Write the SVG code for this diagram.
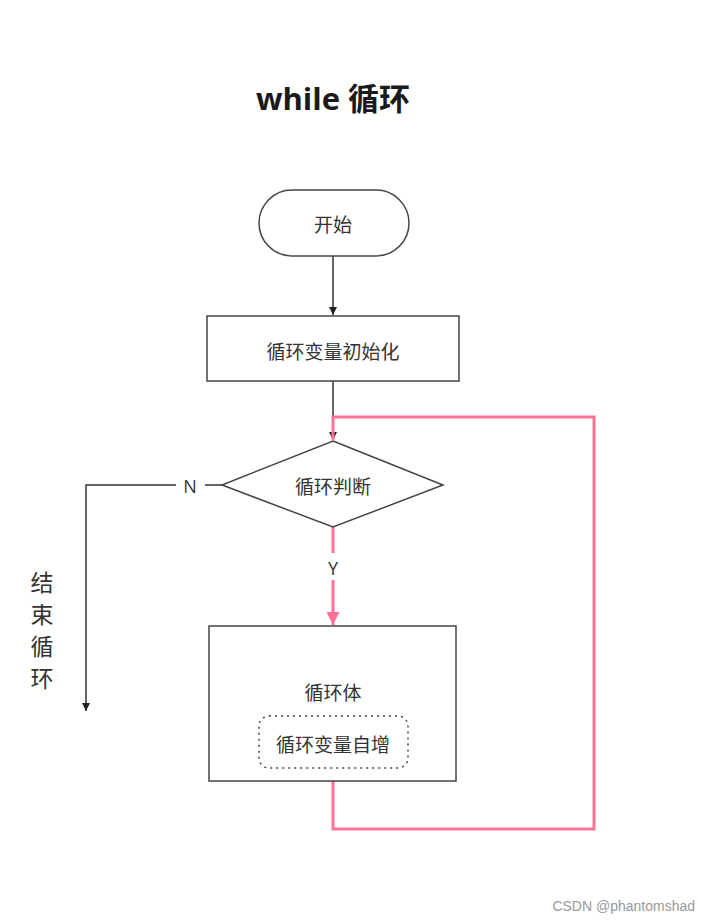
<svg xmlns="http://www.w3.org/2000/svg" width="710" height="924" viewBox="0 0 710 924">
<style>
.node{fill:#fff;stroke:#444;stroke-width:1.5}
.t{font-family:"Noto Sans CJK SC","Liberation Sans",sans-serif;font-size:19px;fill:#333;text-anchor:middle;dominant-baseline:central}
.v{font-size:23px}
.blk{fill:none;stroke:#333;stroke-width:1.5}
.pink{fill:none;stroke:#ff7096;stroke-width:3}
.lbl{font-family:"Open Sans","Liberation Sans",sans-serif;font-size:18px;fill:#333;text-anchor:middle;dominant-baseline:central}
</style>
<defs>
<marker id="ab" viewBox="0 0 10 10" refX="10" refY="5" markerWidth="8" markerHeight="8" markerUnits="userSpaceOnUse" orient="auto"><path d="M0,0 L10,5 L0,10 z" fill="#222"/></marker>
<marker id="ap" viewBox="0 0 10 10" refX="10" refY="5" markerWidth="13" markerHeight="13" markerUnits="userSpaceOnUse" orient="auto"><path d="M0,0 L10,5 L0,10 z" fill="#ff7096"/></marker>
</defs>
<rect width="710" height="924" fill="#fff"/>
<text x="333" y="98" font-family="'Open Sans','Noto Sans CJK SC',sans-serif" font-size="31" font-weight="bold" fill="#1a1a1a" text-anchor="middle" dominant-baseline="central">while 循环</text>
<g id="connectors">
<line class="blk" x1="333" y1="256" x2="333" y2="315" marker-end="url(#ab)"/>
<line class="blk" x1="333" y1="381" x2="333" y2="440" marker-end="url(#ab)"/>
<polyline class="pink" points="333,781 333,829 594,829 594,417 333,417 333,440"/>
<line class="blk" x1="222" y1="485" x2="205" y2="485"/>
<polyline class="blk" points="176,485 86,485 86,711" marker-end="url(#ab)"/>
<text class="lbl" x="190" y="486">N</text>
<line class="pink" x1="333" y1="527" x2="333" y2="553"/>
<line class="pink" x1="333" y1="580" x2="333" y2="625" marker-end="url(#ap)"/>
<text class="lbl" x="333" y="568">Y</text>
</g>
<g id="start">
<rect class="node" x="259" y="190" width="150" height="66" rx="33"/>
<text class="t" x="333" y="223">开始</text>
</g>
<g id="init">
<rect class="node" x="207" y="316" width="252" height="65"/>
<text class="t" x="333" y="350">循环变量初始化</text>
</g>
<g id="cond">
<polygon class="node" points="333,441 443,485 333,527 222,485"/>
<text class="t" x="333" y="485">循环判断</text>
</g>
<g id="end">
<text class="t v" x="42" y="581">结</text>
<text class="t v" x="42" y="613">束</text>
<text class="t v" x="42" y="645">循</text>
<text class="t v" x="42" y="677">环</text>
</g>
<g id="body">
<rect class="node" x="209" y="626" width="247" height="155"/>
<text class="t" x="333" y="691">循环体</text>
</g>
<g id="incr">
<rect x="259" y="716" width="149" height="52" rx="10" fill="none" stroke="#444" stroke-width="1.5" stroke-dasharray="2,4"/>
<text class="t" x="333" y="743">循环变量自增</text>
</g>
<text x="695" y="906" font-family="'Liberation Sans',sans-serif" font-size="14" fill="#999" text-anchor="end" dominant-baseline="central">CSDN @phantomshad</text>
</svg>
